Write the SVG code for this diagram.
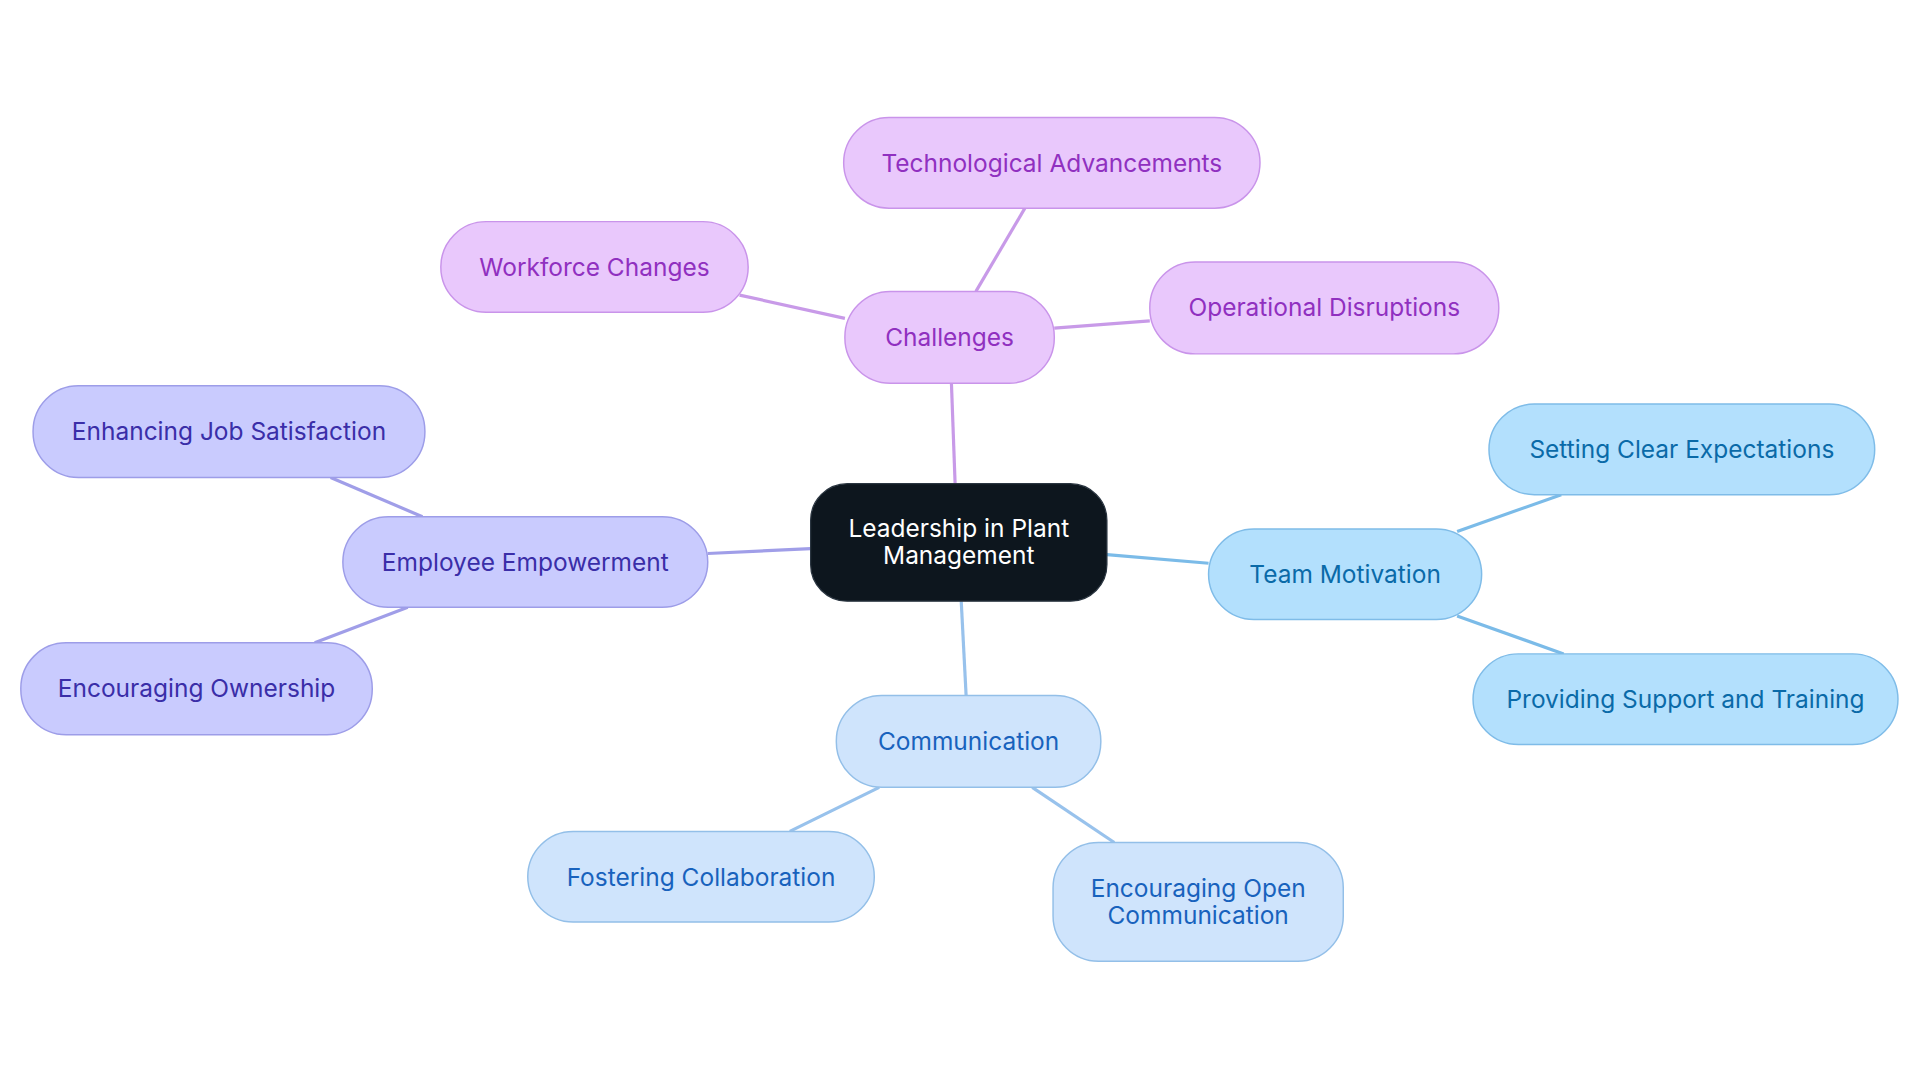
<svg xmlns="http://www.w3.org/2000/svg" width="1920" height="1083" viewBox="0 0 1920 1083">
<style>
text{font-family:Inter,"Noto Sans",sans-serif;font-size:20px;text-anchor:middle;dominant-baseline:central}
.ch rect{fill:#e9c8fc;stroke:#c994ea;stroke-width:1.2}.ch text{fill:#9030c0}
.em rect{fill:#c9cbfe;stroke:#9d9de8;stroke-width:1.2}.em text{fill:#3a2ea8}
.tm rect{fill:#b3e0fd;stroke:#7fbce8;stroke-width:1.2}.tm text{fill:#0a6aa8}
.cm rect{fill:#cfe4fc;stroke:#93bfe8;stroke-width:1.2}.cm text{fill:#1862bd}
#edges line{stroke-width:2.6;fill:none}
</style>
<rect width="1920" height="1083" fill="#fff"/>
<g transform="scale(1.22449)">
<g id="edges">
<line x1="780" y1="395" x2="777" y2="313" stroke="#c89ae8"/>
<line x1="797" y1="238" x2="837" y2="170" stroke="#c89ae8"/>
<line x1="690" y1="260" x2="604" y2="241" stroke="#c89ae8"/>
<line x1="861" y1="268" x2="939" y2="262" stroke="#c89ae8"/>
<line x1="904" y1="453" x2="987" y2="460" stroke="#7bbbe8"/>
<line x1="1190" y1="434" x2="1275" y2="404" stroke="#7bbbe8"/>
<line x1="1190" y1="503" x2="1277" y2="534" stroke="#7bbbe8"/>
<line x1="785" y1="491" x2="789" y2="568" stroke="#98c2ec"/>
<line x1="718" y1="643" x2="645" y2="679" stroke="#98c2ec"/>
<line x1="843" y1="643" x2="910" y2="688" stroke="#98c2ec"/>
<line x1="662" y1="448" x2="578" y2="452" stroke="#a09ee8"/>
<line x1="345" y1="422" x2="270" y2="390" stroke="#a09ee8"/>
<line x1="333" y1="496" x2="257" y2="525" stroke="#a09ee8"/>
</g>
<g id="center"><rect x="662" y="395" width="242" height="96" rx="30" fill="#0d161e" stroke="#2a3540"/><text x="783" y="431" fill="#fff">Leadership in Plant</text><text x="783" y="453" fill="#fff">Management</text></g>
<g id="challenges" class="ch"><rect x="690" y="238" width="171" height="75" rx="37"/><text x="775.5" y="275">Challenges</text></g>
<g id="tech" class="ch"><rect x="689" y="96" width="340" height="74" rx="37"/><text x="859" y="133">Technological Advancements</text></g>
<g id="workforce" class="ch"><rect x="360" y="181" width="251" height="74" rx="37"/><text x="485.5" y="218">Workforce Changes</text></g>
<g id="operational" class="ch"><rect x="939" y="214" width="285" height="75" rx="37"/><text x="1081.5" y="251">Operational Disruptions</text></g>
<g id="team" class="tm"><rect x="987" y="432" width="223" height="74" rx="37"/><text x="1098.5" y="469">Team Motivation</text></g>
<g id="setting" class="tm"><rect x="1216" y="330" width="315" height="74" rx="37"/><text x="1373.5" y="367">Setting Clear Expectations</text></g>
<g id="providing" class="tm"><rect x="1203" y="534" width="347" height="74" rx="37"/><text x="1376.5" y="571">Providing Support and Training</text></g>
<g id="comm" class="cm"><rect x="683" y="568" width="216" height="75" rx="37"/><text x="791" y="605">Communication</text></g>
<g id="fostering" class="cm"><rect x="431" y="679" width="283" height="74" rx="37"/><text x="572.5" y="716">Fostering Collaboration</text></g>
<g id="open" class="cm"><rect x="860" y="688" width="237" height="97" rx="37"/><text x="978.5" y="725">Encouraging Open</text><text x="978.5" y="747">Communication</text></g>
<g id="emp" class="em"><rect x="280" y="422" width="298" height="74" rx="37"/><text x="429" y="459">Employee Empowerment</text></g>
<g id="enhancing" class="em"><rect x="27" y="315" width="320" height="75" rx="37"/><text x="187" y="352">Enhancing Job Satisfaction</text></g>
<g id="ownership" class="em"><rect x="17" y="525" width="287" height="75" rx="37"/><text x="160.5" y="562">Encouraging Ownership</text></g>
</g>
</svg>
